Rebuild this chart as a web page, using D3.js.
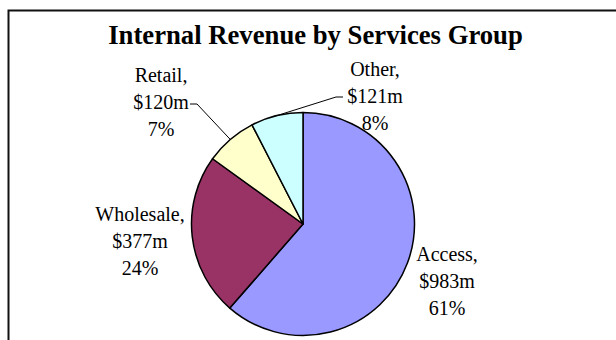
<!DOCTYPE html>
<html>
<head>
<meta charset="utf-8">
<script src="https://cdn.jsdelivr.net/npm/d3@7"></script>
<style>
  html, body { margin: 0; padding: 0; background: #fff; }
  svg { display: block; }
  text { font-family: "Liberation Serif", "Times New Roman", serif; fill: #000; }
</style>
</head>
<body>
<script>
// Revenue by services group, in $m
const categories = ["Access", "Wholesale", "Retail", "Other"];
const revenue = [983, 377, 120, 121];
const sliceColors = ["#9999ff", "#993366", "#ffffcc", "#ccffff"];
const chartTitle = "Internal Revenue by Services Group";

// Label placement relative to the pie centre (first-line baseline) and optional leader elbows
const labelLayout = [
  { dx: 144, dy: 37 },
  { dx: -163, dy: -3 },
  { dx: -142, dy: -142, elbow: [-106, -120], end: [-113, -120] },
  { dx: 72, dy: -148, elbow: [33, -127], end: [40, -127] }
];

const W = 616, H = 340;
const cx = 303, cy = 224, R = 111.5;
const lineGap = 27;

const svg = d3.select("body").append("svg")
  .attr("width", W).attr("height", H);

// chart area frame
svg.append("rect")
  .attr("x", 8.5).attr("y", 10.5)
  .attr("width", 700).attr("height", 400)
  .attr("fill", "#fff")
  .attr("stroke", "#111").attr("stroke-width", 2);

svg.append("text")
  .attr("x", 315.5).attr("y", 44)
  .attr("text-anchor", "middle")
  .attr("font-weight", "bold")
  .attr("font-size", 26.7)
  .text(chartTitle);

const data = categories.map((c, i) => ({ name: c, value: revenue[i], color: sliceColors[i], layout: labelLayout[i] }));
const total = d3.sum(revenue);

const pie = d3.pie().value(d => d.value).sort(null);
const arcs = pie(data);
const arc = d3.arc().innerRadius(0).outerRadius(R);

const g = svg.append("g").attr("transform", `translate(${cx},${cy})`);

g.selectAll("path.slice")
  .data(arcs)
  .join("path")
  .attr("class", "slice")
  .attr("d", arc)
  .attr("fill", d => d.data.color)
  .attr("stroke", "#000")
  .attr("stroke-width", 1.5)
  .attr("stroke-linejoin", "round");

// leader lines from the slice edge to the label
arcs.filter(d => d.data.layout.elbow).forEach(d => {
  const mid = (d.startAngle + d.endAngle) / 2;
  const p0 = [R * Math.sin(mid), -R * Math.cos(mid)];
  g.append("polyline")
    .attr("points", [p0, d.data.layout.elbow, d.data.layout.end].map(p => p.join(",")).join(" "))
    .attr("fill", "none")
    .attr("stroke", "#000")
    .attr("stroke-width", 1);
});

const labels = g.selectAll("text.lbl")
  .data(arcs)
  .join("text")
  .attr("class", "lbl")
  .attr("text-anchor", "middle")
  .attr("font-size", 20)
  .attr("transform", d => `translate(${d.data.layout.dx},${d.data.layout.dy})`);

labels.each(function(d) {
  const pct = Math.round(d.data.value / total * 100);
  const lines = [d.data.name + ",", "$" + d.data.value + "m", pct + "%"];
  d3.select(this).selectAll("tspan")
    .data(lines)
    .join("tspan")
    .attr("x", 0)
    .attr("y", (t, i) => i * lineGap)
    .text(t => t);
});
</script>
</body>
</html>
